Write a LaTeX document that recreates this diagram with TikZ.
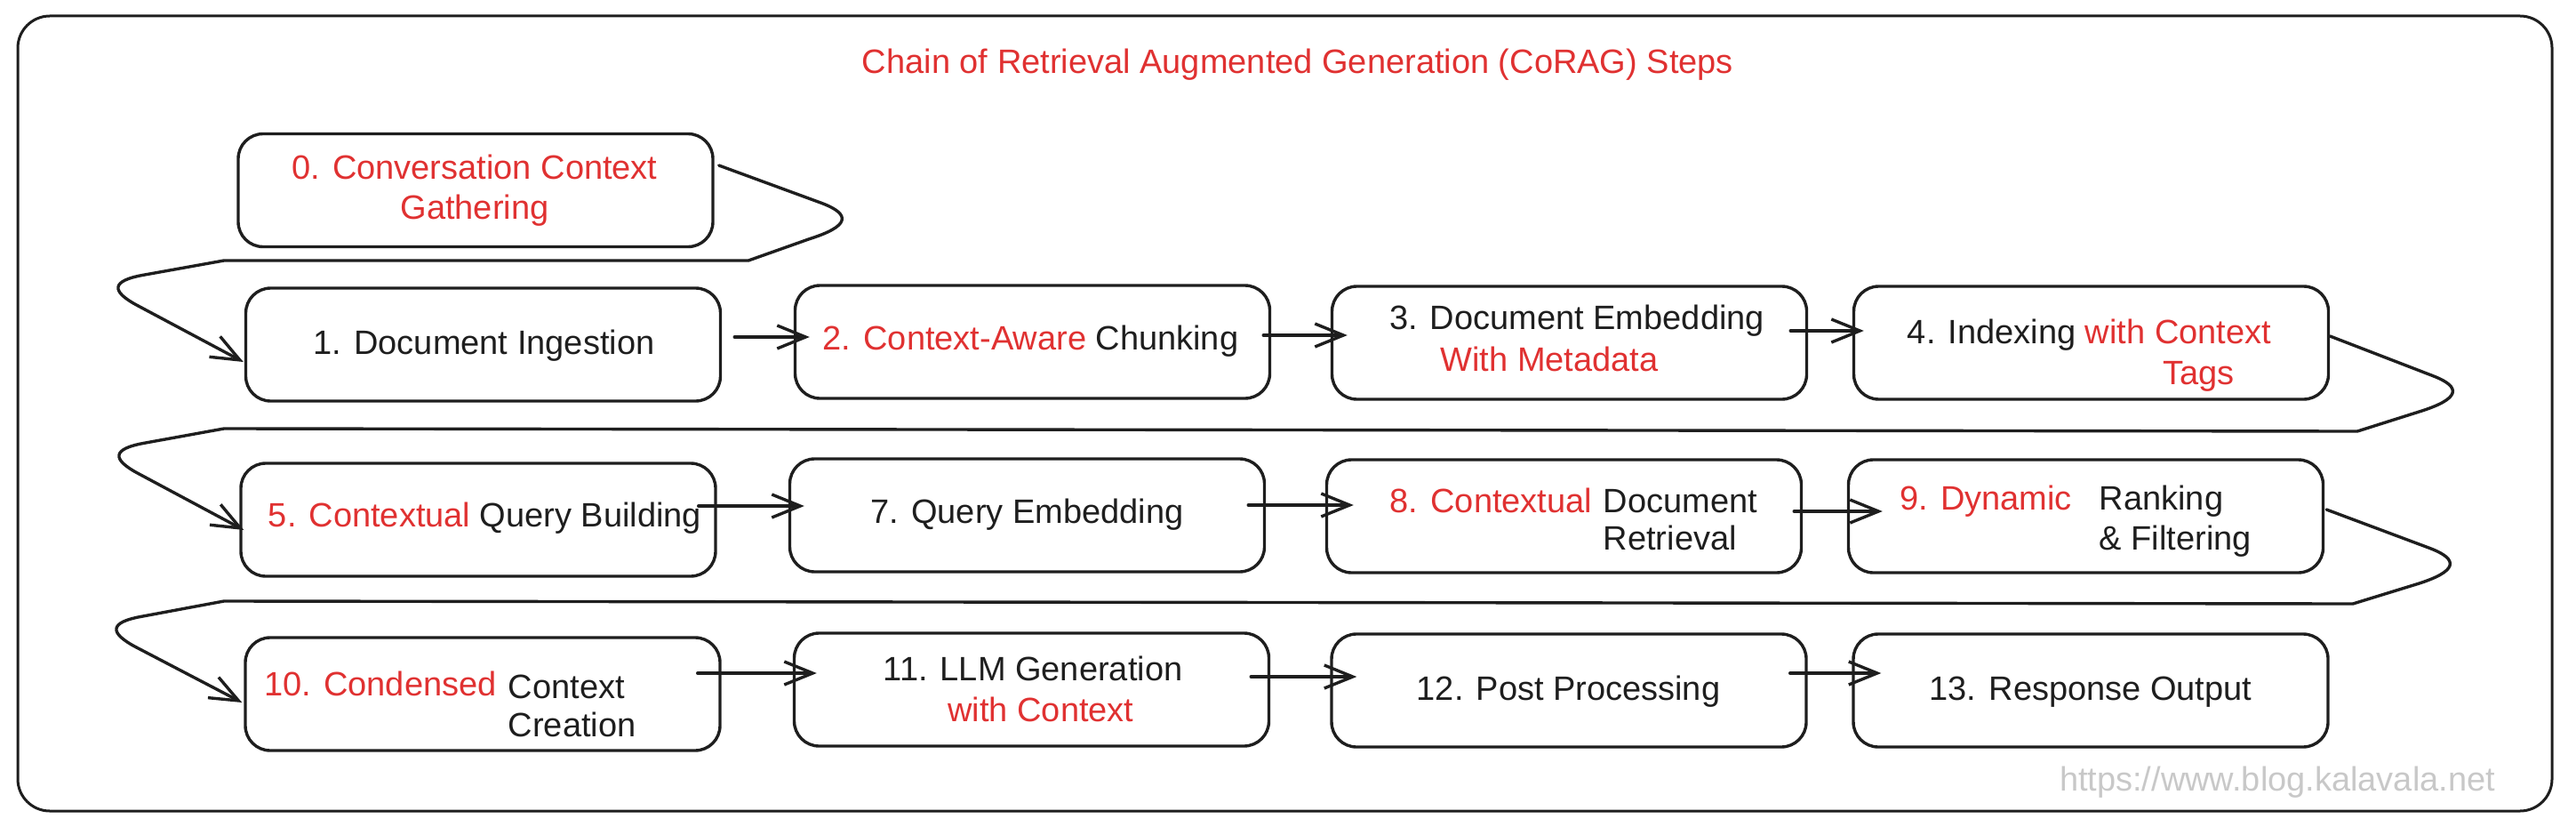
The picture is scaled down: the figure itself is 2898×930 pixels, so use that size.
\documentclass[tikz,border=0pt]{standalone}
\usepackage{fontspec}
\setmainfont{Liberation Sans}
\usetikzlibrary{arrows.meta,calc}
\definecolor{exred}{HTML}{E03131}
\definecolor{exblack}{HTML}{1E1E1E}
\definecolor{exgray}{HTML}{C8C8C8}
\begin{document}
\begin{tikzpicture}[x=0.25pt,y=-0.25pt,
  stepbox/.style={draw=exblack, line width=0.85pt, rounded corners=7pt,
    minimum width=133.5pt, minimum height=31.75pt, inner sep=0pt},
  lbl/.style={font=\fontsize{9.5pt}{11pt}\selectfont, text=exblack, inner sep=0pt, anchor=base},
  hl/.style={text=exred},
  conn/.style={draw=exblack, line width=0.85pt, line cap=round, line join=round,
    -{Straight Barb[length=8pt,width=6.5pt]}},
  frame/.style={draw=exblack, line width=0.75pt, rounded corners=9pt}
]
\useasboundingbox (0,0) rectangle (2898,930);
\draw[frame] (20,18) rectangle (2871,912);

% title
\node[lbl,hl] (title) at (1460,83) {Chain of Retrieval Augmented Generation (CoRAG) Steps};

% boxes
\node[stepbox] (b0) at (535,214) {};
\node[stepbox] (b1) at (543.5,387.5) {};
\node[stepbox] (b2) at (1161.5,384.5) {};
\node[stepbox] (b3) at (1765.5,385.5) {};
\node[stepbox] (b4) at (2352.5,385.5) {};
\node[stepbox] (b5) at (538,584.5) {};
\node[stepbox] (b7) at (1155.5,579.5) {};
\node[stepbox] (b8) at (1759.5,580.5) {};
\node[stepbox] (b9) at (2346.5,580.5) {};
\node[stepbox] (b10) at (543,780.5) {};
\node[stepbox] (b11) at (1160.5,775.5) {};
\node[stepbox] (b12) at (1765,776.5) {};
\node[stepbox] (b13) at (2352,776.5) {};

% texts
\node[lbl,hl] (t0a) at (534,202) {0. Conversation Context};
\node[lbl,hl] (t0b) at (534,247) {Gathering};
\node[lbl] (t1) at (544.5,398) {1. Document Ingestion};
\node[lbl] (t2) at (1159.5,393) {{\color{exred}2. Context-Aware} Chunking};
\node[lbl] (t3a) at (1774,370) {3. Document Embedding};
\node[lbl,hl] (t3b) at (1743,417) {With Metadata};
\node[lbl] (t4a) at (2350.5,386) {4. Indexing {\color{exred}with Context}};
\node[lbl,hl] (t4b) at (2473.5,432) {Tags};
\node[lbl] (t5) at (545.5,592) {{\color{exred}5. Contextual} Query Building};
\node[lbl] (t7) at (1155.5,588) {7. Query Embedding};
\node[lbl,hl,anchor=base east] (t8a) at (1792,576) {8. Contextual};
\node[lbl,anchor=base west] (t8b) at (1803,576) {Document};
\node[lbl,anchor=base west] (t8c) at (1803,618) {Retrieval};
\node[lbl,hl] (t9a) at (2234,573) {9. Dynamic};
\node[lbl,anchor=base west] (t9b) at (2361,573) {Ranking};
\node[lbl,anchor=base west] (t9c) at (2361,618) {\& Filtering};
\node[lbl,hl] (t10a) at (428,782) {10. Condensed};
\node[lbl,anchor=base west] (t10b) at (571,785) {Context};
\node[lbl,anchor=base west] (t10c) at (571,828) {Creation};
\node[lbl] (t11a) at (1162,765) {11. LLM Generation};
\node[lbl,hl] (t11b) at (1171,811) {with Context};
\node[lbl] (t12) at (1764.5,787) {12. Post Processing};
\node[lbl] (t13) at (2352,787) {13. Response Output};
\node[lbl,text=exgray] (url) at (2562,889) {https://www.blog.kalavala.net};

% waypoints of the wrap-around connectors
\coordinate (s1) at ($(b0.east)+(5,-28)$);
\coordinate (q1) at (947,248);  \coordinate (e1) at (842,293);
\coordinate (h1) at (252,293);  \coordinate (l1) at (133,324);
\coordinate (t1e) at ($(b1.west)+(-1,19.5)$);
\coordinate (s2) at ($(b4.east)+(0,-7.5)$);
\coordinate (q2) at (2759,442); \coordinate (e2) at (2652,485);
\coordinate (h2) at (252,482);  \coordinate (l2) at (134,513);
\coordinate (t2e) at ($(b5.west)+(5,11.5)$);
\coordinate (s3) at ($(b9.east)+(2,-7.5)$);
\coordinate (q3) at (2756,636); \coordinate (e3) at (2647,679);
\coordinate (h3) at (252,676);  \coordinate (l3) at (131,708);
\coordinate (t3e) at ($(b10.west)+(-2,9.5)$);

% wrap-around connectors
\foreach \i in {1,2,3}{
  \draw[conn] (s\i) -- ($(q\i)+(-22.4,-19.5)$)
      .. controls ($(q\i)+(11.9,-6.5)$) and ($(q\i)+(7.4,6.8)$) .. ($(q\i)+(-35.9,20.5)$)
    -- (e\i) -- (h\i) -- ($(l\i)+(27.6,-14.6)$)
      .. controls ($(l\i)+(-7.5,-8.2)$) and ($(l\i)+(-9.2,3.3)$) .. ($(l\i)+(22.3,19.9)$)
    -- (t\i e);
}

% straight connectors
\draw[conn] ($(b1.east)+(14,-8.5)$) -- ($(b2.west)+(18,-5.5)$);
\draw[conn] ($(b2.east)+(-9,-7.5)$) -- ($(b3.west)+(19,-8.5)$);
\draw[conn] ($(b3.east)+(-20,-13.5)$) -- ($(b4.west)+(13,-13.5)$);
\draw[conn] ($(b5.east)+(-21,-15.5)$) -- ($(b7.west)+(18,-10.5)$);
\draw[conn] ($(b7.east)+(-20,-11.5)$) -- ($(b8.west)+(32,-12.5)$);
\draw[conn] ($(b8.east)+(-10,-5.5)$) -- ($(b9.west)+(40,-5.5)$);
\draw[conn] ($(b10.east)+(-27,-23.5)$) -- ($(b11.west)+(27,-18.5)$);
\draw[conn] ($(b11.east)+(-22,-14.5)$) -- ($(b12.west)+(30,-15.5)$);
\draw[conn] ($(b12.east)+(-20,-19.5)$) -- ($(b13.west)+(33,-19.5)$);
\end{tikzpicture}
\end{document}
